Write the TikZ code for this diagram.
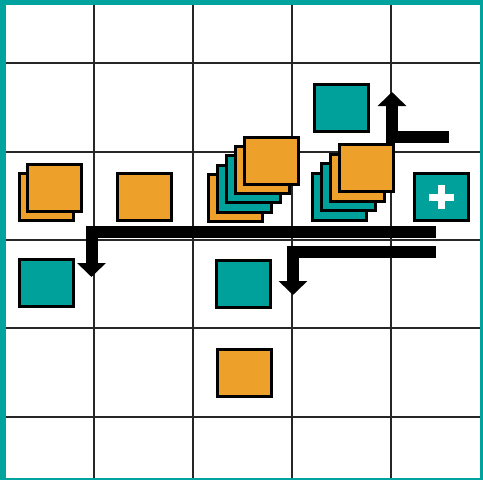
\documentclass[tikz,border=0pt]{standalone}
\usetikzlibrary{arrows.meta}
\definecolor{tealc}{HTML}{00A19A}
\definecolor{orangec}{HTML}{EDA12B}
\definecolor{framec}{HTML}{00A39D}
\tikzset{
  sq/.style={draw=black, line width=3pt, inner sep=0pt, minimum width=54pt, minimum height=47pt},
  osq/.style={sq, fill=orangec},
  tsq/.style={sq, fill=tealc},
  gridline/.style={draw=black!85, line width=2pt},
  bigarrow/.style={draw=black, line width=12pt, line join=miter, -{Triangle[width=28pt,length=14pt]}},
}
\begin{document}
\begin{tikzpicture}[x=1pt,y=-1pt]
\useasboundingbox (0,0) rectangle (483,480);
% frame
\fill[framec] (0,0) rectangle (483,480);
\fill[white] (6,4.5) rectangle (480,478);
% grid
\foreach \gx in {94,193,292,391} \draw[gridline] (\gx,4.5) -- (\gx,478);
\foreach \gy in {63,152,240,328,417} \draw[gridline] (6,\gy) -- (480,\gy);
% squares
\node[osq] (a1) at (46.5,197) {};
\node[osq] (a2) at (54.5,187.5) {};
\node[osq] (b1) at (144,196.5) {};
\node[tsq] (c1) at (46,282.5) {};
\node[tsq] (d1) at (243.5,284) {};
\node[osq] (e1) at (244,373) {};
\node[tsq] (f1) at (341,108) {};
\node[tsq] (g1) at (441,197) {};
\fill[white] (g1.center) ++(-12.5,-3.5) rectangle ++(25,7);
\fill[white] (g1.center) ++(-3.5,-12) rectangle ++(7,24);
% left stack
\node[osq] (s1) at (235,197.5) {};
\node[tsq] (s2) at (244,188.5) {};
\node[tsq] (s3) at (253.5,179) {};
\node[osq] (s4) at (262.5,170) {};
\node[osq] (s5) at (271.5,161) {};
% right stack
\node[tsq] (r1) at (339,197) {};
\node[tsq] (r2) at (348,187) {};
\node[osq] (r3) at (357,177.5) {};
\node[osq] (r4) at (366,168) {};
% arrows
\coordinate (u0) at (436,232);
\coordinate (u1) at (91.5,232);
\coordinate (u2) at (91.5,277);
\draw[bigarrow] (u0) -- (u1) -- (u2);
\coordinate (l0) at (436,251.5);
\coordinate (l1) at (293,251.5);
\coordinate (l2) at (293,295);
\draw[bigarrow] (l0) -- (l1) -- (l2);
\coordinate (t0) at (449,136.5);
\coordinate (t1) at (392,136.5);
\coordinate (t2) at (392,92);
\draw[bigarrow] (t0) -- (t1) -- (t2);
\end{tikzpicture}
\end{document}
